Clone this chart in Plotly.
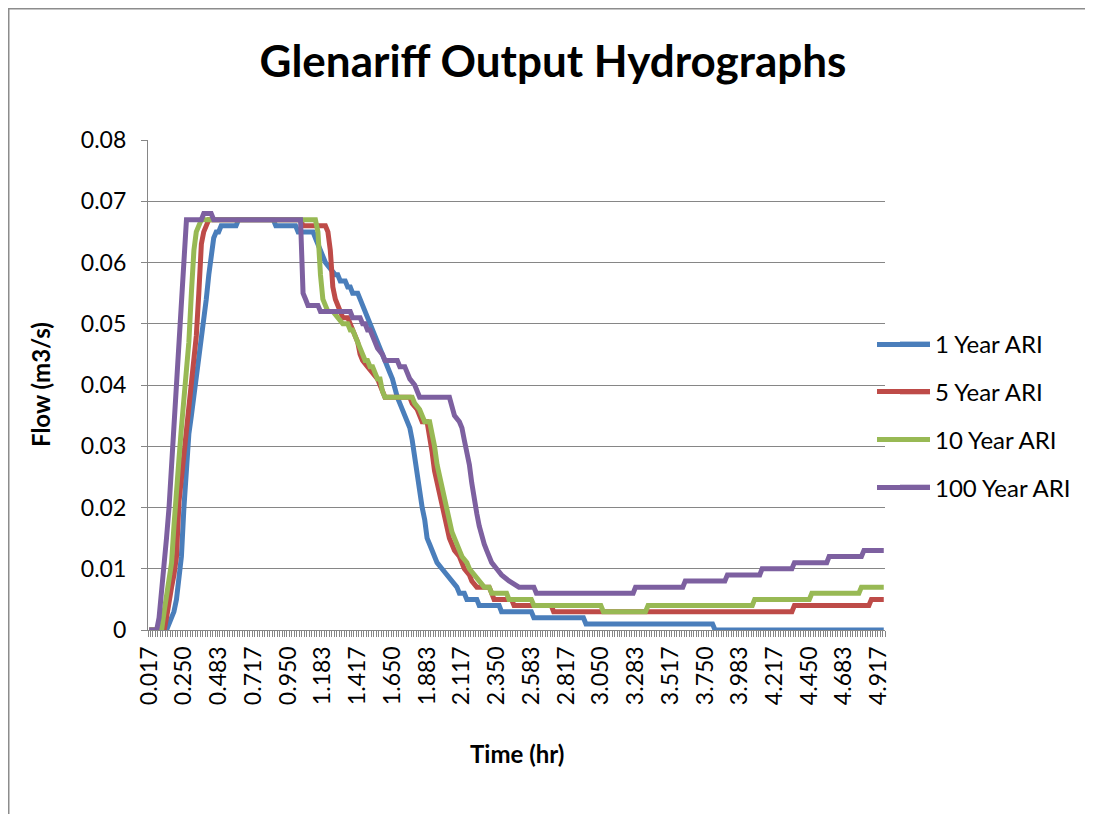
import plotly.graph_objects as go

# ---------------- text ----------------
chart_title = "Glenariff Output Hydrographs"
x_title = "Time (hr)"
y_title = "Flow (m3/s)"

series_names = ["1 Year ARI", "5 Year ARI", "10 Year ARI", "100 Year ARI"]
series_colors = ["#4A7EBB", "#BE4B48", "#98B954", "#7D60A0"]

# category tick labels shown on the time axis (hr)
tick_labels = ["0.017", "0.250", "0.483", "0.717", "0.950", "1.183", "1.417",
               "1.650", "1.883", "2.117", "2.350", "2.583", "2.817", "3.050",
               "3.283", "3.517", "3.750", "3.983", "4.217", "4.450", "4.683",
               "4.917"]
time_step_hr = 1 / 60          # one-minute sampling interval
first_time_hr = 0.017
last_time_hr = 4.950

# ---------------- data: (time hr, flow m3/s) ----------------
pts_1yr = [
    (0.017, 0.000), (0.133, 0.000), (0.150, 0.001), (0.167, 0.002), (0.183, 0.003),
    (0.200, 0.005), (0.217, 0.008), (0.233, 0.012), (0.250, 0.020), (0.267, 0.027),
    (0.283, 0.032), (0.300, 0.035), (0.317, 0.038), (0.333, 0.042), (0.350, 0.045),
    (0.367, 0.047), (0.383, 0.050), (0.400, 0.054), (0.417, 0.058), (0.433, 0.061),
    (0.450, 0.064), (0.467, 0.065), (0.483, 0.065), (0.500, 0.066), (0.600, 0.066),
    (0.617, 0.067), (0.850, 0.067), (0.867, 0.066), (1.000, 0.066), (1.017, 0.065),
    (1.117, 0.065), (1.133, 0.064), (1.150, 0.063), (1.167, 0.062), (1.183, 0.061),
    (1.200, 0.060), (1.233, 0.059), (1.267, 0.058), (1.283, 0.058), (1.300, 0.057),
    (1.333, 0.057), (1.350, 0.056), (1.367, 0.056), (1.383, 0.055), (1.417, 0.055),
    (1.433, 0.054), (1.450, 0.053), (1.467, 0.052), (1.483, 0.051), (1.500, 0.050),
    (1.517, 0.049), (1.533, 0.048), (1.550, 0.047), (1.567, 0.046), (1.583, 0.045),
    (1.600, 0.044), (1.617, 0.043), (1.633, 0.042), (1.650, 0.041), (1.667, 0.039),
    (1.683, 0.038), (1.700, 0.037), (1.717, 0.036), (1.733, 0.035), (1.750, 0.034),
    (1.767, 0.033), (1.783, 0.031), (1.800, 0.028), (1.817, 0.025), (1.833, 0.022),
    (1.850, 0.020), (1.867, 0.018), (1.883, 0.015), (1.900, 0.014), (1.917, 0.013),
    (1.933, 0.012), (1.950, 0.011), (1.983, 0.010), (2.017, 0.009), (2.050, 0.008),
    (2.083, 0.007), (2.100, 0.006), (2.133, 0.006), (2.150, 0.005), (2.217, 0.005),
    (2.233, 0.004), (2.367, 0.004), (2.383, 0.003), (2.583, 0.003), (2.600, 0.002),
    (2.933, 0.002), (2.950, 0.001), (3.800, 0.001), (3.817, 0.000), (4.950, 0.000),
]

pts_5yr = [
    (0.017, 0.000), (0.117, 0.000), (0.133, 0.002), (0.150, 0.004), (0.167, 0.007),
    (0.183, 0.009), (0.200, 0.012), (0.217, 0.021), (0.233, 0.025), (0.250, 0.029),
    (0.267, 0.033), (0.283, 0.036), (0.300, 0.040), (0.317, 0.044), (0.333, 0.048),
    (0.350, 0.055), (0.367, 0.063), (0.383, 0.065), (0.400, 0.066), (0.417, 0.067),
    (1.033, 0.067), (1.050, 0.066), (1.200, 0.066), (1.217, 0.065), (1.233, 0.062),
    (1.250, 0.056), (1.267, 0.054), (1.283, 0.053), (1.300, 0.052), (1.317, 0.051),
    (1.350, 0.051), (1.367, 0.050), (1.383, 0.049), (1.400, 0.048), (1.417, 0.047),
    (1.433, 0.045), (1.450, 0.044), (1.483, 0.043), (1.517, 0.042), (1.550, 0.041),
    (1.567, 0.040), (1.583, 0.039), (1.600, 0.038), (1.767, 0.038), (1.783, 0.037),
    (1.817, 0.036), (1.833, 0.035), (1.850, 0.034), (1.883, 0.034), (1.900, 0.032),
    (1.917, 0.029), (1.933, 0.026), (1.950, 0.024), (1.967, 0.022), (1.983, 0.020),
    (2.000, 0.018), (2.017, 0.017), (2.033, 0.015), (2.050, 0.014), (2.067, 0.013),
    (2.100, 0.012), (2.117, 0.011), (2.133, 0.010), (2.167, 0.009), (2.183, 0.008),
    (2.217, 0.007), (2.300, 0.007), (2.317, 0.006), (2.333, 0.005), (2.450, 0.005),
    (2.467, 0.004), (2.717, 0.004), (2.733, 0.003), (4.333, 0.003), (4.350, 0.004),
    (4.850, 0.004), (4.867, 0.005), (4.950, 0.005),
]

pts_10yr = [
    (0.017, 0.000), (0.100, 0.000), (0.117, 0.003), (0.133, 0.006), (0.150, 0.008),
    (0.167, 0.011), (0.183, 0.017), (0.200, 0.024), (0.217, 0.028), (0.233, 0.033),
    (0.250, 0.038), (0.267, 0.042), (0.283, 0.047), (0.300, 0.055), (0.317, 0.062),
    (0.333, 0.065), (0.350, 0.066), (0.367, 0.067), (1.133, 0.067), (1.150, 0.065),
    (1.167, 0.058), (1.183, 0.054), (1.200, 0.053), (1.217, 0.052), (1.250, 0.052),
    (1.283, 0.051), (1.317, 0.050), (1.350, 0.050), (1.367, 0.049), (1.383, 0.049),
    (1.400, 0.048), (1.417, 0.047), (1.433, 0.046), (1.450, 0.045), (1.467, 0.044),
    (1.483, 0.044), (1.500, 0.043), (1.517, 0.043), (1.533, 0.042), (1.550, 0.041),
    (1.567, 0.041), (1.583, 0.039), (1.600, 0.038), (1.783, 0.038), (1.800, 0.037),
    (1.833, 0.036), (1.850, 0.035), (1.867, 0.034), (1.900, 0.034), (1.917, 0.032),
    (1.933, 0.030), (1.950, 0.027), (1.967, 0.025), (1.983, 0.023), (2.000, 0.021),
    (2.017, 0.019), (2.033, 0.017), (2.050, 0.016), (2.067, 0.015), (2.083, 0.014),
    (2.100, 0.013), (2.117, 0.012), (2.150, 0.011), (2.167, 0.010), (2.200, 0.009),
    (2.233, 0.008), (2.267, 0.007), (2.300, 0.007), (2.317, 0.006), (2.417, 0.006),
    (2.433, 0.005), (2.583, 0.005), (2.600, 0.004), (3.050, 0.004), (3.067, 0.003),
    (3.350, 0.003), (3.367, 0.004), (4.067, 0.004), (4.083, 0.005), (4.450, 0.005),
    (4.467, 0.006), (4.783, 0.006), (4.800, 0.007), (4.950, 0.007),
]

pts_100yr = [
    (0.017, 0.000), (0.067, 0.000), (0.083, 0.002), (0.100, 0.006), (0.117, 0.010),
    (0.133, 0.015), (0.150, 0.020), (0.167, 0.027), (0.183, 0.033), (0.200, 0.040),
    (0.217, 0.047), (0.233, 0.053), (0.250, 0.060), (0.267, 0.067), (0.367, 0.067),
    (0.383, 0.068), (0.433, 0.068), (0.450, 0.067), (1.033, 0.067), (1.050, 0.055),
    (1.067, 0.054), (1.083, 0.053), (1.150, 0.053), (1.167, 0.052), (1.367, 0.052),
    (1.383, 0.051), (1.433, 0.051), (1.450, 0.050), (1.467, 0.050), (1.483, 0.049),
    (1.500, 0.049), (1.517, 0.048), (1.533, 0.047), (1.550, 0.046), (1.583, 0.045),
    (1.600, 0.044), (1.683, 0.044), (1.700, 0.043), (1.733, 0.043), (1.750, 0.042),
    (1.767, 0.041), (1.800, 0.040), (1.817, 0.039), (1.833, 0.038), (2.033, 0.038),
    (2.050, 0.036), (2.067, 0.035), (2.100, 0.034), (2.117, 0.033), (2.133, 0.031),
    (2.150, 0.029), (2.167, 0.027), (2.183, 0.024), (2.200, 0.021), (2.217, 0.019),
    (2.233, 0.017), (2.250, 0.015), (2.267, 0.014), (2.283, 0.013), (2.300, 0.012),
    (2.317, 0.011), (2.350, 0.010), (2.383, 0.009), (2.433, 0.008), (2.500, 0.007),
    (2.600, 0.007), (2.617, 0.006), (3.267, 0.006), (3.283, 0.007), (3.600, 0.007),
    (3.617, 0.008), (3.883, 0.008), (3.900, 0.009), (4.117, 0.009), (4.133, 0.010),
    (4.333, 0.010), (4.350, 0.011), (4.567, 0.011), (4.583, 0.012), (4.800, 0.012),
    (4.817, 0.013), (4.950, 0.013),
]

all_series = [pts_1yr, pts_5yr, pts_10yr, pts_100yr]

# ---------------- styling / layout (screen pixels; page has an 8px body margin) ----------------
FONT = "Lato"
axis_grey = "#868686"
OFF = 8                                   # browser body margin
W, H = 1093 - OFF, 814 - OFF
PLOT_X0, PLOT_X1, PLOT_Y0, PLOT_Y1 = 148, 885, 140, 630   # plot area in screen px
L, R = PLOT_X0 - OFF, W - (PLOT_X1 - OFF)
T, B = PLOT_Y0 - OFF, H - (PLOT_Y1 - OFF)
plot_w, plot_h = W - L - R, H - T - B
LINE_W = 5


def px_to_paper_x(px):
    return (px - OFF - L) / plot_w


def px_to_paper_y(py):
    return (PLOT_Y1 - py) / plot_h


fig = go.Figure()
for name, color, pts in zip(series_names, series_colors, all_series):
    t_vals = [p[0] for p in pts]
    q_vals = [p[1] for p in pts]
    fig.add_trace(go.Scatter(
        x=t_vals, y=q_vals, mode="lines", name=name, legendgroup=name,
        line=dict(color=color, width=LINE_W), cliponaxis=False,
    ))

# legend key lines in the original are longer than plotly's 30px sample: extend them leftwards
legend_row_y = [344.5, 391.5, 439.5, 487.5]
legend_ext = [dict(type="line", xref="paper", yref="paper", layer="above",
                   x0=px_to_paper_x(877), x1=px_to_paper_x(930),
                   y0=px_to_paper_y(yy), y1=px_to_paper_y(yy),
                   line=dict(color=c, width=LINE_W))
              for yy, c in zip(legend_row_y, series_colors)]

fig.update_layout(
    width=W, height=H,
    margin=dict(l=L, r=R, t=T, b=B, autoexpand=False),
    paper_bgcolor="white", plot_bgcolor="white",
    font=dict(family=FONT, color="black", size=23),
    title=dict(text=chart_title, x=px_to_paper_x(553), xref="paper", xanchor="center",
               y=1 - (62 - OFF) / H, yref="container", yanchor="middle",
               font=dict(family=FONT, size=44, weight="bold", color="black")),
    showlegend=True,
    legend=dict(x=px_to_paper_x(895), xanchor="left", y=px_to_paper_y(322), yanchor="top",
                font=dict(family=FONT, size=24, color="black"),
                tracegroupgap=13.5, bgcolor="rgba(0,0,0,0)", borderwidth=0),
    xaxis=dict(
        range=[first_time_hr - time_step_hr / 2, last_time_hr + time_step_hr / 2],
        tickmode="array", tickvals=[float(s) for s in tick_labels], ticktext=tick_labels,
        tickangle=-90, ticks="", showgrid=False, zeroline=False,
        showline=True, linecolor=axis_grey, linewidth=1.3, layer="below traces",
        tickfont=dict(family=FONT, size=23, color="black"), ticklabelstandoff=6,
        minor=dict(ticks="outside", ticklen=6, tickwidth=1, tickcolor=axis_grey,
                   tickmode="linear", tick0=first_time_hr - time_step_hr / 2,
                   dtick=time_step_hr, showgrid=False),
    ),
    yaxis=dict(
        range=[0, 0.08], dtick=0.01, tick0=0, showgrid=True, gridcolor=axis_grey,
        gridwidth=1.3, zeroline=False, showline=True, linecolor=axis_grey, linewidth=1.3,
        ticks="outside", ticklen=6, tickcolor=axis_grey, tickwidth=1.3,
        layer="below traces",
        tickfont=dict(family=FONT, size=23, color="black"), ticklabelstandoff=10,
    ),
    annotations=[
        dict(text=y_title, textangle=-90, xref="paper", yref="paper",
             x=px_to_paper_x(40), y=px_to_paper_y(385), xanchor="center", yanchor="middle",
             showarrow=False, font=dict(family=FONT, size=24, weight="bold", color="black")),
        dict(text=x_title, xref="paper", yref="paper",
             x=px_to_paper_x(517), y=px_to_paper_y(753), xanchor="center", yanchor="middle",
             showarrow=False, font=dict(family=FONT, size=24, weight="bold", color="black")),
    ],
    shapes=[dict(type="rect", xref="paper", yref="paper", layer="below",
                 x0=px_to_paper_x(OFF + 0.75), x1=px_to_paper_x(1120),
                 y0=px_to_paper_y(840), y1=px_to_paper_y(OFF + 0.75),
                 line=dict(color="#8C8C8C", width=1.5), fillcolor="rgba(0,0,0,0)")]
    + legend_ext,
)

fig.write_html("out.html")
